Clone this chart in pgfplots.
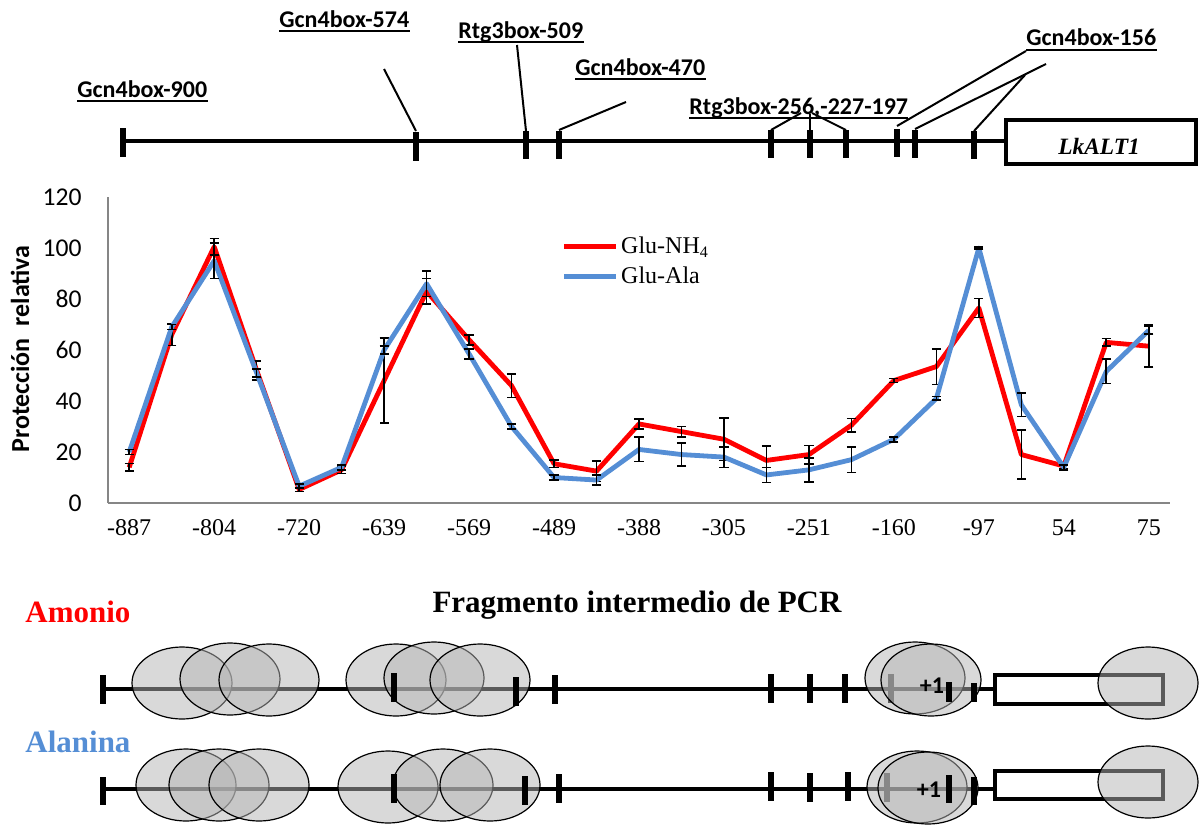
\documentclass[border=0pt]{standalone}
\usepackage{pgfplots}
\pgfplotsset{compat=1.18}
\usepackage{pgfplotstable}
\usepackage{fontspec}
\setmainfont{Liberation Serif}
\newfontfamily\carlito{Carlito}
\definecolor{xred}{RGB}{255,0,0}
\definecolor{xblue}{RGB}{85,142,213}
\definecolor{axgray}{RGB}{134,134,134}
\definecolor{ellfill}{RGB}{180,180,180}

\pgfplotstableread{
x red rerr blue berr
0 14 1.5 20 1
1 66 4.3 69 1
2 100.5 3.3 95 7
3 52 3.7 51 1.5
4 5.3 0.8 6.6 0.8
5 13 1.5 14 1
6 48 16.7 60 1.5
7 83 5 86 5
8 64 2 58.5 2
9 46 4.7 30 1
10 15.4 1.5 10 1
11 12.5 4 9 2
12 31 2 21 4.8
13 28 2 19 4.5
14 25 8.4 18 4
15 16.7 5.6 11 3
16 19 3.6 13 4.7
17 30.5 2.6 17 5
18 48 0.8 25 1
19 53.5 7 41 0.7
20 76.5 3.7 100 0.5
21 19 9.7 38.5 4.6
22 14.5 1 14 1
23 63 1.5 51.6 4.8
24 61.5 8.2 67.7 1.5
}\data

\newcommand\lab[3]{%
  \node[anchor=base west, inner sep=0pt, font=\carlito\bfseries\fontsize{12}{14}\selectfont] (n) at (#1,#2) {#3};
  \draw[line width=1.1pt] ([yshift=-1.9pt]n.base west) -- ([yshift=-1.9pt]n.base east);}

\begin{document}
\begin{tikzpicture}
\begin{axis}[
  at={(54pt,-251.5pt)}, anchor=south west,
  width=531pt, height=153pt, scale only axis,
  xmin=-0.5, xmax=24.5, ymin=0, ymax=120,
  axis x line*=bottom, axis y line*=left,
  axis line style={axgray, line width=1pt, -},
  xtick={0,2,...,24},
  xticklabels={-887,-804,-720,-639,-569,-489,-388,-305,-251,-160,-97,54,75},
  ytick={0,20,...,120},
  major tick length=0pt,
  tick style={draw=none},
  xticklabel style={font=\fontsize{12}{14}\selectfont, anchor=north, inner sep=0pt, yshift=-8pt},
  yticklabel style={font=\carlito\fontsize{12.8}{15}\selectfont, anchor=east, inner sep=0pt, xshift=-13pt},
  /pgf/number format/assume math mode=true,
  clip=false,
  legend style={draw=none, fill=none, inner sep=0pt, outer sep=0pt,
    at={(axis description cs:0.4275,0.789)}, anchor=west, row sep=2.5pt,
    font=\fontsize{12}{14}\selectfont, nodes={inner sep=1.2pt}},
  legend cell align=left,
  legend image code/.code={\draw[#1] (0pt,0pt) -- (26pt,0pt);},
]
\addplot[xred, line width=2.4pt, line join=round, no marks,
  error bars/.cd, y dir=both, y explicit,
  error bar style={black, line width=0.8pt, solid},
  error mark options={black, rotate=90, mark size=2.3pt, line width=0.8pt}]
  table[x=x, y=red, y error=rerr]{\data};
\addlegendentry{Glu-NH\textsubscript{4}}
\addplot[xblue, line width=2.4pt, line join=round, no marks,
  error bars/.cd, y dir=both, y explicit,
  error bar style={black, line width=0.8pt, solid},
  error mark options={black, rotate=90, mark size=2.3pt, line width=0.8pt}]
  table[x=x, y=blue, y error=berr]{\data};
\addlegendentry{Glu-Ala}
\end{axis}

\begin{scope}[x=0.5pt,y=-0.5pt]
\path (0,0) rectangle (1204,824);
% y label
\node[rotate=90, font=\carlito\bfseries\fontsize{13}{15}\selectfont] at (20,349) {Protección\ \ relativa};

% ---- top map
\draw[line width=2pt] (122,141) -- (1005,141);
\foreach \xx/\ya/\yb in {123/128/157, 416/132/161, 526/131/159, 559/131/159, 771/130/158, 810/130/158, 846/130/158, 897/129/157, 915/130/158, 974/131/159}
  {\draw[line width=2.8pt] (\xx,\ya) -- (\xx,\yb);}
\draw[line width=2.4pt, fill=white] (1006,120) rectangle (1196,164);
\node[font=\bfseries\itshape\fontsize{11.7}{13}\selectfont, anchor=base] at (1099,154) {LkALT1};
\lab{77}{97}{Gcn4box-900}
\lab{279}{27}{Gcn4box-574}
\lab{458}{38}{Rtg3box-509}
\lab{575}{75}{Gcn4box-470}
\lab{689}{114}{Rtg3box-256,-227-197}
\lab{1026}{46}{Gcn4box-156}
\draw[line width=1pt] (384,69) -- (416,131);
\draw[line width=1pt] (517,45) -- (526,131);
\draw[line width=1pt] (559,130) -- (626,102);
\draw[line width=1pt] (771,130) -- (801,113);
\draw[line width=1pt] (812,113) -- (846,130);
\draw[line width=1pt] (810,130) -- (810,114);
\draw[line width=1pt] (1026,51) -- (897,126);
\draw[line width=1pt] (1046,64) -- (915,129);
\draw[line width=1pt] (1025,75) -- (974,131);

% ---- bottom
\node[font=\bfseries\fontsize{15.5}{18}\selectfont, anchor=base] at (637,612) {Fragmento intermedio de PCR};
\node[font=\bfseries\fontsize{15.5}{18}\selectfont, anchor=base west, inner sep=0pt, text=xred] at (25,622) {Amonio};
\node[font=\bfseries\fontsize{15.5}{18}\selectfont, anchor=base west, inner sep=0pt, text=xblue] at (25,752) {Alanina};

% row 1
\draw[line width=1.6pt] (103,689) -- (995,689);
\foreach \xx/\ya/\yb in {103/675/704, 555/675/704, 771/674/703, 810/674/703, 845/674/703, 891/674/703}
  {\draw[line width=2.6pt] (\xx,\ya) -- (\xx,\yb);}
\draw[line width=2.2pt] (995,675) rectangle (1163,704);
\foreach \cx/\cy in {182/683, 230/679, 269/680, 396/680, 434/678, 480/680, 915/678, 931/680, 1148/683}
  {\filldraw[fill=ellfill, fill opacity=0.5, draw=black, line width=0.6pt] (\cx,\cy) ellipse [x radius=25pt, y radius=18pt];}
\node[font=\carlito\bfseries\fontsize{12}{14}\selectfont] at (932,686) {+1};
\foreach \xx/\ya/\yb in {394/673/702, 516/677/706, 949/682/702, 974/683/702}
  {\draw[line width=2.6pt] (\xx,\ya) -- (\xx,\yb);}

% row 2
\draw[line width=1.6pt] (103,789) -- (995,789);
\foreach \xx/\ya/\yb in {103/777/805, 559/774/803, 771/772/801, 810/773/802, 848/772/801, 887/773/802}
  {\draw[line width=2.6pt] (\xx,\ya) -- (\xx,\yb);}
\draw[line width=2.2pt] (995,771) rectangle (1163,799);
\foreach \cx/\cy in {186/785, 219/785, 259/785, 388/787, 443/785, 490/785, 917/787, 928/788, 1148/782}
  {\filldraw[fill=ellfill, fill opacity=0.5, draw=black, line width=0.6pt] (\cx,\cy) ellipse [x radius=25pt, y radius=18pt];}
\node[font=\carlito\bfseries\fontsize{12}{14}\selectfont] at (929,790) {+1};
\foreach \xx/\ya/\yb in {394/774/803, 525/776/805, 949/775/803, 974/777/805}
  {\draw[line width=2.6pt] (\xx,\ya) -- (\xx,\yb);}
\end{scope}
\end{tikzpicture}
\end{document}
